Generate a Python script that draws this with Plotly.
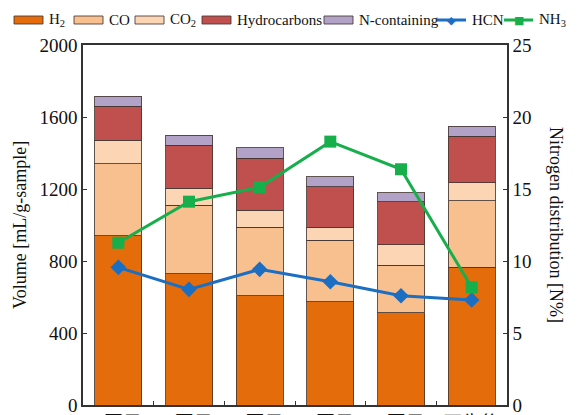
import plotly.graph_objects as go

# Runs and regeneration
categories = ["1回目", "2回目", "3回目", "4回目", "5回目", "再生後"]

# Gas volumes [mL/g-sample], stacked
h2 = [940, 728, 606, 574, 513, 765]
co = [400, 381, 381, 341, 264, 370]
co2 = [130, 95, 96, 73, 113, 100]
hydrocarbons = [191, 240, 287, 225, 238, 259]
n_containing = [54, 56, 60, 56, 52, 56]

# Nitrogen distribution [N%]
hcn = [9.56, 8.03, 9.42, 8.56, 7.59, 7.29]
nh3 = [11.27, 14.12, 15.12, 18.29, 16.37, 8.17]

bar_series = [
    ("H<sub>2</sub>", h2, "#E46C0A"),
    ("CO", co, "#F9C08F"),
    ("CO<sub>2</sub>", co2, "#FCD6B4"),
    ("Hydrocarbons", hydrocarbons, "#C0504D"),
    ("N-containing", n_containing, "#B3A2C7"),
]
line_series = [
    ("HCN", hcn, "#1B6EC2", "diamond"),
    ("NH<sub>3</sub>", nh3, "#17AF4B", "square"),
]

SERIF = "Liberation Serif, Times New Roman, Noto Sans CJK JP, serif"
EDGE = "rgba(70,55,50,0.85)"

fig = go.Figure()
for name, vals, col in bar_series:
    fig.add_trace(go.Bar(
        x=categories, y=vals, name=name,
        marker=dict(color=col, line=dict(color=EDGE, width=1)),
        showlegend=False,
    ))
for name, vals, col, sym in line_series:
    fig.add_trace(go.Scatter(
        x=categories, y=vals, name=name, yaxis="y2",
        mode="lines+markers",
        line=dict(color=col, width=3),
        marker=dict(symbol=sym, size=12, color=col),
        showlegend=False,
    ))

# Legend row drawn across the top margin
W, H = 577, 415
L, R, T, B = 83, 70, 45, 10
pw, ph = W - L - R, H - T - B

def px(x):
    return (x - L) / pw

def py(y):
    return (H - B - y) / ph

legend_slots = [14, 74, 135, 202, 324, 437, 504]
legend_y = 20
shapes = []
annotations = []
entries = [(n, c, None) for n, _, c in bar_series] + [(n, c, s) for n, _, c, s in line_series]
for (name, col, sym), x0 in zip(entries, legend_slots):
    x1 = x0 + 29
    if sym is None:
        shapes.append(dict(type="rect", xref="paper", yref="paper",
                           x0=px(x0), x1=px(x1), y0=py(legend_y + 4), y1=py(legend_y - 4),
                           fillcolor=col, line=dict(color=EDGE, width=1)))
    else:
        shapes.append(dict(type="line", xref="paper", yref="paper",
                           x0=px(x0), x1=px(x1), y0=py(legend_y), y1=py(legend_y),
                           line=dict(color=col, width=3)))
        annotations.append(dict(xref="paper", yref="paper", x=px((x0 + x1) / 2), y=py(legend_y),
                                text="■" if sym == "square" else "◆", showarrow=False,
                                font=dict(color=col, size=11, family="DejaVu Sans"),
                                xanchor="center", yanchor="middle"))
    annotations.append(dict(xref="paper", yref="paper", x=px(x1 + 4), y=py(legend_y),
                            text=name, showarrow=False, xanchor="left", yanchor="middle",
                            font=dict(family=SERIF, size=15, color="#111")))

# Axis titles
annotations.append(dict(xref="paper", yref="paper", x=px(20), y=0.5, text="Volume [mL/g-sample]",
                        textangle=-90, showarrow=False, xanchor="center", yanchor="middle",
                        font=dict(family=SERIF, size=18, color="#111")))
annotations.append(dict(xref="paper", yref="paper", x=px(556), y=0.5, text="Nitrogen distribution [N%]",
                        textangle=90, showarrow=False, xanchor="center", yanchor="middle",
                        font=dict(family=SERIF, size=18, color="#111")))

axis_common = dict(showgrid=False, zeroline=False, showline=True, linecolor="#333", linewidth=1.5,
                   ticks="inside", ticklen=4, tickcolor="#333", ticklabeloverflow="allow",
                   tickfont=dict(family=SERIF, size=19, color="#111"))

fig.update_layout(
    width=W, height=H,
    margin=dict(l=L, r=R, t=T, b=B, autoexpand=False),
    paper_bgcolor="white", plot_bgcolor="white",
    barmode="stack", bargap=0.335,
    showlegend=False,
    xaxis=dict(**axis_common, tickson="boundaries", mirror=True, automargin=False),
    yaxis=dict(**axis_common, range=[0, 2000], dtick=400, automargin=False),
    yaxis2=dict(**axis_common, range=[0, 25], dtick=5, overlaying="y", side="right", automargin=False),
    shapes=shapes,
    annotations=annotations,
)

fig.write_html("out.html")
